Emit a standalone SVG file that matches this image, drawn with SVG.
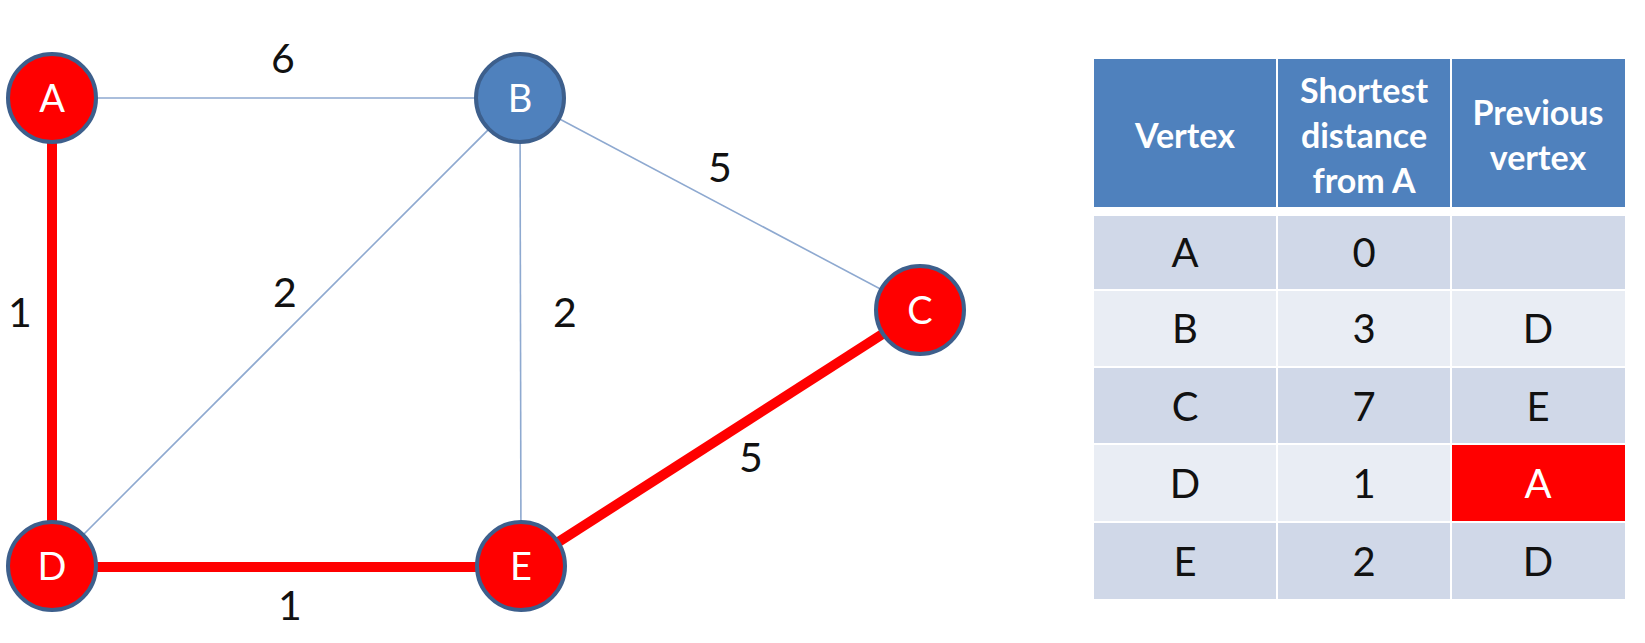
<svg xmlns="http://www.w3.org/2000/svg" width="1645" height="643" viewBox="0 0 1645 643">
  <style>
    .thin { stroke: #8EA9D0; stroke-width: 1.6; fill: none; }
    .path { stroke: #FF0000; stroke-width: 10; fill: none; }
    .node { stroke: #3D5F8C; stroke-width: 4; }
    .red { fill: #FF0000; }
    .blue { fill: #4F81BD; }
    .nlabel { font-family: Lato, "Liberation Sans", sans-serif; font-size: 38px; fill: #FFFFFF; text-anchor: middle; }
    .wlabel { font-family: Lato, "Liberation Sans", sans-serif; font-size: 41px; fill: #111111; text-anchor: middle; }
    .hdr { fill: #4F81BD; }
    .odd { fill: #D0D8E8; }
    .even { fill: #E9EDF4; }
    .hl { fill: #FF0000; }
    .htext { font-family: Lato, "Liberation Sans", sans-serif; font-size: 34px; font-weight: bold; fill: #FFFFFF; text-anchor: middle; }
    .ctext { font-family: Lato, "Liberation Sans", sans-serif; font-size: 40px; fill: #111111; text-anchor: middle; }
    .ctext-w { font-family: Lato, "Liberation Sans", sans-serif; font-size: 40px; fill: #FFFFFF; text-anchor: middle; }
  </style>
  <rect width="1645" height="643" fill="#FFFFFF"/>

  <!-- edges -->
  <g id="connectors">
    <line class="thin" x1="52" y1="98" x2="520" y2="98"/>
    <line class="thin" x1="520" y1="98" x2="920" y2="310"/>
    <line class="thin" x1="520" y1="98" x2="521" y2="566"/>
    <line class="thin" x1="520" y1="98" x2="52" y2="566"/>
    <line class="path" x1="52" y1="98" x2="52" y2="566"/>
    <line class="path" x1="52" y1="567" x2="521" y2="567"/>
    <line class="path" x1="521" y1="566" x2="920" y2="310"/>
    <text class="wlabel" x="283" y="73">6</text>
    <text class="wlabel" x="20" y="327">1</text>
    <text class="wlabel" x="285" y="307">2</text>
    <text class="wlabel" x="565" y="327">2</text>
    <text class="wlabel" x="720" y="182">5</text>
    <text class="wlabel" x="751" y="472">5</text>
    <text class="wlabel" x="290" y="620">1</text>
  </g>

  <!-- vertices -->
  <g id="node-A">
    <circle class="node red" cx="52" cy="98" r="44"/>
    <text class="nlabel" x="52" y="112">A</text>
  </g>
  <g id="node-B">
    <circle class="node blue" cx="520" cy="98" r="44"/>
    <text class="nlabel" x="520" y="112">B</text>
  </g>
  <g id="node-C">
    <circle class="node red" cx="920" cy="310" r="44"/>
    <text class="nlabel" x="920" y="324">C</text>
  </g>
  <g id="node-D">
    <circle class="node red" cx="52" cy="566" r="44"/>
    <text class="nlabel" x="52" y="580">D</text>
  </g>
  <g id="node-E">
    <circle class="node red" cx="521" cy="566" r="44"/>
    <text class="nlabel" x="521" y="580">E</text>
  </g>

  <!-- distance table -->
  <g id="table">
    <rect class="hdr" x="1094" y="59" width="182" height="148"/>
    <rect class="hdr" x="1278" y="59" width="172" height="148"/>
    <rect class="hdr" x="1452" y="59" width="173" height="148"/>
    <text class="htext" x="1185" y="148">Vertex</text>
    <text class="htext" x="1364" y="103">Shortest</text>
    <text class="htext" x="1364" y="148">distance</text>
    <text class="htext" x="1364" y="193">from A</text>
    <text class="htext" x="1538" y="125">Previous</text>
    <text class="htext" x="1538" y="170">vertex</text>

    <rect class="odd" x="1094" y="216" width="182" height="73"/>
    <rect class="odd" x="1278" y="216" width="172" height="73"/>
    <rect class="odd" x="1452" y="216" width="173" height="73"/>
    <text class="ctext" x="1185" y="267">A</text>
    <text class="ctext" x="1364" y="267">0</text>

    <rect class="even" x="1094" y="291" width="182" height="75"/>
    <rect class="even" x="1278" y="291" width="172" height="75"/>
    <rect class="even" x="1452" y="291" width="173" height="75"/>
    <text class="ctext" x="1185" y="343">B</text>
    <text class="ctext" x="1364" y="343">3</text>
    <text class="ctext" x="1538" y="343">D</text>

    <rect class="odd" x="1094" y="368" width="182" height="75"/>
    <rect class="odd" x="1278" y="368" width="172" height="75"/>
    <rect class="odd" x="1452" y="368" width="173" height="75"/>
    <text class="ctext" x="1185" y="421">C</text>
    <text class="ctext" x="1364" y="421">7</text>
    <text class="ctext" x="1538" y="421">E</text>

    <rect class="even" x="1094" y="445" width="182" height="76"/>
    <rect class="even" x="1278" y="445" width="172" height="76"/>
    <rect class="hl" x="1452" y="445" width="173" height="76"/>
    <text class="ctext" x="1185" y="498">D</text>
    <text class="ctext" x="1364" y="498">1</text>
    <text class="ctext-w" x="1538" y="498">A</text>

    <rect class="odd" x="1094" y="523" width="182" height="76"/>
    <rect class="odd" x="1278" y="523" width="172" height="76"/>
    <rect class="odd" x="1452" y="523" width="173" height="76"/>
    <text class="ctext" x="1185" y="576">E</text>
    <text class="ctext" x="1364" y="576">2</text>
    <text class="ctext" x="1538" y="576">D</text>
  </g>
</svg>
